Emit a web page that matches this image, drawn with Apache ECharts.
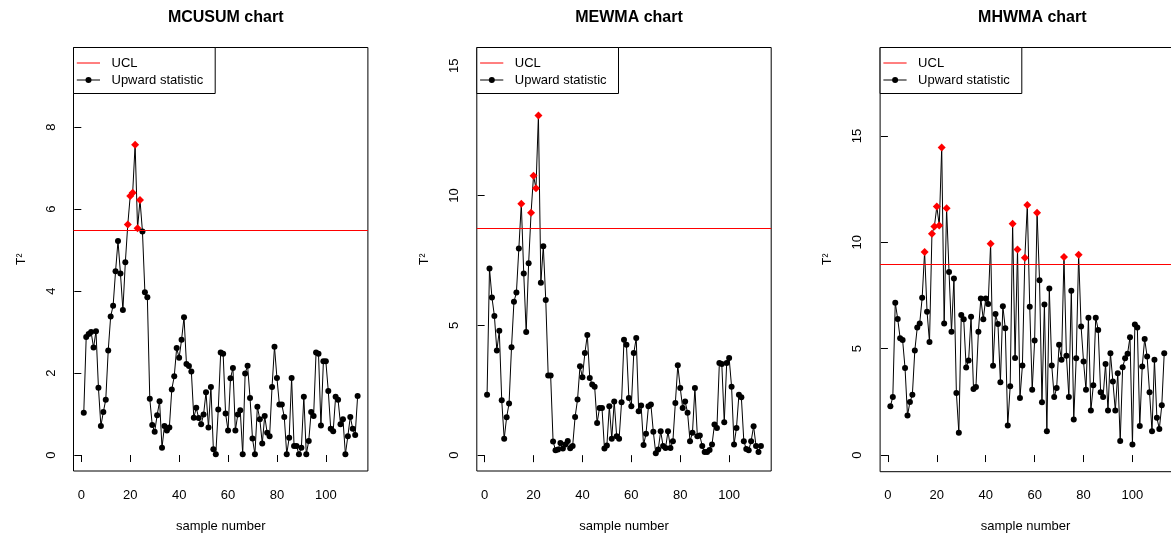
<!DOCTYPE html>
<html>
<head>
<meta charset="utf-8">
<script src="https://cdn.jsdelivr.net/npm/echarts@6/dist/echarts.min.js"></script>
<style>
  html, body { margin: 0; padding: 0; background: #ffffff; }
  #chart { width: 1171px; height: 538px; }
</style>
</head>
<body>
<div id="chart"></div>
<script>
// Chart titles
const titles = ['MCUSUM chart', 'MEWMA chart', 'MHWMA chart'];

// Upward statistic per sample (samples 1..113)
const mcusum = [
  1.03, 2.88, 2.95, 3.00, 2.62, 3.02, 1.64, 0.71, 1.05, 1.35,
  2.55, 3.38, 3.64, 4.48, 5.22, 4.43, 3.54, 4.70, 5.62, 6.32,
  6.40, 7.57, 5.53, 6.22, 5.45, 3.97, 3.85, 1.37, 0.73, 0.57,
  0.97, 1.31, 0.18, 0.71, 0.60, 0.67, 1.60, 1.92, 2.61, 2.37,
  2.81, 3.36, 2.22, 2.17, 2.04, 0.91, 1.15, 0.90, 0.75, 0.99,
  1.53, 0.67, 1.66, 0.14, 0.02, 1.11, 2.50, 2.47, 1.01, 0.60,
  1.87, 2.12, 0.60, 0.99, 1.09, 0.02, 1.99, 2.18, 1.39, 0.40,
  0.02, 1.18, 0.87, 0.28, 0.95, 0.54, 0.46, 1.66, 2.64, 1.88,
  1.23, 1.23, 0.93, 0.02, 0.42, 1.88, 0.22, 0.22, 0.02, 0.18,
  1.42, 0.02, 0.34, 1.05, 0.95, 2.50, 2.47, 0.72, 2.29, 2.29,
  1.56, 0.64, 0.58, 1.42, 1.35, 0.75, 0.87, 0.02, 0.46, 0.93,
  0.64, 0.49, 1.44
];
const mewma = [
  2.33, 7.19, 6.07, 5.36, 4.03, 4.79, 2.11, 0.63, 1.46, 1.99,
  4.16, 5.91, 6.26, 7.96, 9.68, 7.00, 4.74, 7.39, 9.34, 10.76,
  10.28, 13.08, 6.64, 8.05, 5.98, 3.07, 3.07, 0.53, 0.19, 0.22,
  0.47, 0.26, 0.41, 0.55, 0.27, 0.35, 1.47, 2.14, 3.42, 3.00,
  3.93, 4.63, 2.97, 2.72, 2.63, 1.24, 1.82, 1.82, 0.26, 0.37,
  1.88, 0.63, 2.07, 0.73, 0.63, 2.04, 4.44, 4.25, 2.20, 1.88,
  3.93, 4.51, 1.69, 1.91, 0.39, 0.82, 1.88, 1.95, 0.90, 0.07,
  0.22, 0.92, 0.35, 0.28, 0.92, 0.28, 0.54, 2.01, 3.46, 2.59,
  1.82, 2.07, 1.63, 0.54, 0.86, 2.59, 0.73, 0.76, 0.35, 0.12,
  0.12, 0.20, 0.41, 1.18, 1.05, 3.55, 3.51, 1.27, 3.55, 3.74,
  2.63, 0.41, 1.05, 2.33, 2.23, 0.54, 0.24, 0.19, 0.54, 1.11,
  0.35, 0.12, 0.35
];
const mhwma = [
  2.29, 2.73, 7.16, 6.40, 5.49, 5.41, 4.09, 1.86, 2.49, 2.84,
  4.92, 6.00, 6.19, 7.39, 9.55, 6.74, 5.31, 10.40, 10.75, 11.68,
  10.79, 14.46, 6.19, 11.60, 8.60, 5.80, 8.30, 2.92, 1.05, 6.58,
  6.38, 4.12, 4.44, 6.50, 3.10, 3.20, 5.80, 7.36, 6.38, 7.36,
  7.10, 9.93, 4.20, 6.63, 6.16, 3.42, 7.00, 5.96, 1.39, 3.23,
  10.87, 4.56, 9.66, 2.68, 4.21, 9.27, 11.75, 6.97, 3.07, 5.38,
  11.39, 8.22, 2.48, 7.08, 1.12, 7.83, 4.21, 2.73, 3.15, 5.18,
  4.48, 9.31, 4.67, 2.73, 7.72, 1.67, 4.55, 9.42, 6.04, 4.40,
  3.07, 6.46, 2.09, 3.28, 6.46, 5.88, 2.95, 2.73, 4.28, 2.09,
  4.79, 3.46, 2.09, 3.85, 0.66, 4.13, 4.55, 4.76, 5.54, 0.50,
  6.14, 6.00, 1.36, 4.16, 5.46, 4.63, 2.95, 1.12, 4.48, 1.75,
  1.23, 2.34, 4.79
];

// Upper control limits
const ucl = [5.49, 8.72, 8.98];

// Tick labels
const xTicks = [0, 20, 40, 60, 80, 100];
const yTicks = [[0, 2, 4, 6, 8], [0, 5, 10, 15], [0, 5, 10, 15]];

// Legend texts
const legendLabels = ['UCL', 'Upward statistic'];

const statistics = [mcusum, mewma, mhwma];

// Layout
const FONT = '"Liberation Sans", Arial, Helvetica, sans-serif';
const CANVAS_W = 1171;
const PANEL_STEP = 403.3;
const BOX_LEFT = 73.5;
const BOX_TOP = 47.5;
const BOX_W = 294.4;
const BOX_H = 424.2;
const X_MIN = -3.2, X_SPAN = 120.4;   // x range across a full panel width
const yLimits = [[-0.39, 9.94], [-0.61, 15.70], [-0.75, 19.16]];

const chart = echarts.init(document.getElementById('chart'), null, { renderer: 'canvas' });

const grids = [], xAxes = [], yAxes = [], series = [], titleList = [], graphics = [];

statistics.forEach((values, k) => {
  const ox = BOX_LEFT + k * PANEL_STEP;
  const limit = ucl[k];
  // the last panel runs past the right edge of the page: keep its scale, cut its width
  const width = Math.min(BOX_W, CANVAS_W - ox);
  const clipped = width < BOX_W;
  const xMax = X_MIN + X_SPAN * width / BOX_W;

  grids.push({
    left: ox, top: BOX_TOP, width: width, height: BOX_H,
    show: !clipped, borderColor: '#000', borderWidth: 1, backgroundColor: 'transparent',
    containLabel: false
  });

  if (clipped) {
    graphics.push({
      type: 'polyline', z: 5,
      shape: { points: [[CANVAS_W + 2, BOX_TOP], [ox, BOX_TOP], [ox, BOX_TOP + BOX_H], [CANVAS_W + 2, BOX_TOP + BOX_H]] },
      style: { stroke: '#000', lineWidth: 1, fill: null }
    });
  }

  titleList.push({
    text: titles[k],
    left: ox + BOX_W / 2, top: 5, textAlign: 'center',
    textStyle: { fontFamily: FONT, fontSize: 16, fontWeight: 'bold', color: '#000' }
  });

  xAxes.push({
    gridIndex: k, type: 'value', min: X_MIN, max: xMax,
    name: 'sample number', nameLocation: 'middle', nameGap: 49,
    nameTextStyle: { fontFamily: FONT, fontSize: 13, color: '#000' },
    axisLine: { show: false },
    splitLine: { show: false },
    axisTick: { show: true, length: 7, lineStyle: { color: '#000', width: 1 }, customValues: xTicks },
    axisLabel: { fontFamily: FONT, fontSize: 13, color: '#000', margin: 18, customValues: xTicks }
  });

  yAxes.push({
    gridIndex: k, type: 'value', min: yLimits[k][0], max: yLimits[k][1],
    name: 'T\u00B2', nameLocation: 'middle', nameGap: 46, nameRotate: 90,
    nameTextStyle: { fontFamily: FONT, fontSize: 12, color: '#000' },
    axisLine: { show: false },
    splitLine: { show: false },
    axisTick: { show: true, length: 7, lineStyle: { color: '#000', width: 1 }, customValues: yTicks[k] },
    axisLabel: { fontFamily: FONT, fontSize: 13, color: '#000', margin: 16, rotate: 90, customValues: yTicks[k] }
  });

  const over = v => typeof v === 'number' && v > limit;

  series.push({
    type: 'line', xAxisIndex: k, yAxisIndex: k,
    data: values.map((v, i) => [i + 1, v]),
    showAllSymbol: true,
    symbol: val => over(val[1]) ? 'diamond' : 'circle',
    symbolSize: val => over(val[1]) ? 8 : 6,
    lineStyle: { color: '#000', width: 1 },
    itemStyle: {
      color: p => (Array.isArray(p.value) && over(p.value[1])) ? '#ff0000' : '#000000',
      borderWidth: 0
    },
    emphasis: { disabled: true },
    animation: false, z: 3,
    markLine: {
      silent: true, symbol: 'none', animation: false,
      label: { show: false },
      itemStyle: { color: '#ff0000' },
      lineStyle: { color: '#ff0000', width: 1, type: 'solid' },
      data: [{ yAxis: limit, itemStyle: { color: '#ff0000' }, lineStyle: { color: '#ff0000', width: 1, type: 'solid' } }]
    }
  });

  // Legend box in the top-left corner of each panel
  graphics.push(
    { type: 'rect', z: 10, shape: { x: ox, y: BOX_TOP, width: 141.7, height: 46 },
      style: { fill: '#fff', stroke: '#000', lineWidth: 1 } },
    { type: 'line', z: 11, shape: { x1: ox + 3.3, y1: 63, x2: ox + 26.5, y2: 63 },
      style: { stroke: '#ff0000', lineWidth: 1 } },
    { type: 'line', z: 11, shape: { x1: ox + 3.3, y1: 80, x2: ox + 26.5, y2: 80 },
      style: { stroke: '#000', lineWidth: 1 } },
    { type: 'circle', z: 11, shape: { cx: ox + 15, cy: 80, r: 3 }, style: { fill: '#000' } },
    { type: 'text', z: 11, x: ox + 38, y: 63,
      style: { text: legendLabels[0], font: '13px ' + FONT, fill: '#000', verticalAlign: 'middle' } },
    { type: 'text', z: 11, x: ox + 38, y: 80,
      style: { text: legendLabels[1], font: '13px ' + FONT, fill: '#000', verticalAlign: 'middle' } }
  );
});

chart.setOption({
  backgroundColor: '#ffffff',
  animation: false,
  title: titleList,
  grid: grids,
  xAxis: xAxes,
  yAxis: yAxes,
  series: series,
  graphic: graphics
});
</script>
</body>
</html>
